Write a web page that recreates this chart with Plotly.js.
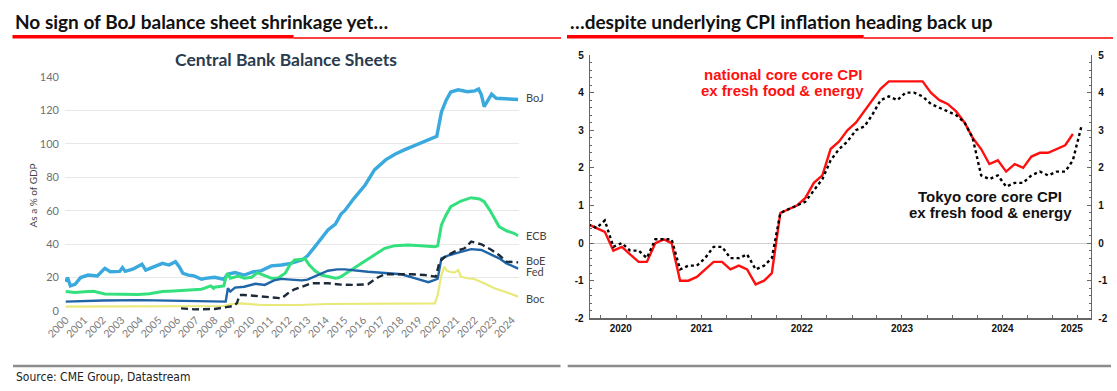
<!DOCTYPE html>
<html><head><meta charset="utf-8">
<script src="https://cdn.plot.ly/plotly-3.0.1.min.js"></script>
<style>html,body{margin:0;padding:0;background:#fff;}#chart{width:1117px;height:391px;}</style>
</head><body><div id="chart"></div>
<script>
// ---------- LEFT: Central Bank Balance Sheets (% of GDP) ----------
const leftTickYears = [2000,2001,2002,2003,2004,2005,2006,2007,2008,2009,2010,2011,2012,2013,2014,2015,2016,2017,2018,2019,2020,2021,2022,2023,2024];
const leftTickLabels = ['2000','2001','2002','2003','2004','2005','2006','2007','2008','2009','2010','2011','2012','2013','2014','2015','2016','2017','2018','2019','2020','2021','2022','2023','2024'];

const bojYears = [2000.0,2000.1,2000.25,2000.5,2000.8,2001.2,2001.7,2002.1,2002.4,2002.9,2003.05,2003.2,2003.6,2004.1,2004.3,2004.8,2005.2,2005.55,2005.9,2006.1,2006.3,2006.6,2006.9,2007.3,2007.5,2008.0,2008.5,2008.7,2009.1,2009.6,2010.1,2010.5,2011.05,2011.6,2012.1,2012.7,2013.0,2013.4,2013.75,2014.1,2014.5,2014.8,2015.0,2015.5,2016.1,2016.6,2017.2,2017.7,2018.2,2018.8,2019.3,2019.8,2019.95,2020.2,2020.45,2020.7,2021.1,2021.6,2022.0,2022.2,2022.35,2022.5,2022.7,2022.9,2023.15,2023.5,2023.8,2024.1,2024.33];
const bojVals  = [17.5,20,15,16,20,21.5,21,25.5,23.5,23.7,26,23.7,25,28,24.5,27,28.5,27.5,29.5,26.5,22.5,21.5,21,19,19.5,20.2,19,22,23,21.5,23.5,24,27,27.5,28.5,30.5,33,38.5,43.5,48.5,52,58,60,67.4,75.4,84.4,90.4,93.8,96.4,99.3,101.7,104,104.5,119,126,131,132.3,131.2,131.7,132.8,129.3,122.3,126.3,129.7,127.3,127,127,126.5,126.5];

const ecbYears = [2000.0,2000.5,2001.0,2001.5,2002.1,2002.8,2003.9,2004.5,2005.2,2005.8,2006.6,2007.3,2007.8,2007.95,2008.0,2008.5,2008.6,2008.7,2008.85,2009.3,2009.6,2010.0,2010.3,2010.7,2011.05,2011.4,2011.8,2012.05,2012.3,2012.7,2012.85,2013.1,2013.4,2013.75,2014.1,2014.5,2014.65,2014.8,2015.2,2015.9,2016.6,2017.15,2017.7,2018.4,2019.1,2019.85,2020.0,2020.2,2020.45,2020.7,2021.25,2021.8,2022.25,2022.5,2022.8,2023.05,2023.3,2023.7,2024.1,2024.33];
const ecbVals  = [11.6,11,11.5,11.8,10.2,10,9.9,10.3,11.6,12,12.6,13,15,13.5,14.2,15,19.6,22.6,19.6,20.9,19.6,20.2,22.9,20.9,19.6,19.6,22.6,27.5,30.5,30.9,31.5,27.5,24.1,21.5,20.5,19.6,19.9,20.5,23.5,28.5,33.5,37.5,39.1,39.5,39.1,38.5,39,51.5,57.5,62.4,65.8,67.8,67,65.4,60.4,55.5,50.5,48,46.5,45];

const fedYears = [2000.0,2002.0,2004.0,2006.0,2008.0,2008.6,2008.72,2008.85,2009.1,2009.6,2010.2,2010.7,2011.2,2011.6,2012.1,2012.7,2013.0,2013.6,2014.1,2014.6,2015.0,2016.25,2017.0,2018.05,2018.8,2019.5,2019.85,2020.0,2020.2,2020.65,2021.3,2021.8,2022.35,2022.9,2023.3,2023.7,2024.33];
const fedVals  = [5.6,6.3,6.5,6.2,5.8,5.6,13.6,11.6,14,14.5,16.3,15.6,18.3,19.2,18.8,18.3,18.8,21.5,24.1,24.9,24.9,23.5,23,22,19.5,17.2,18.6,19.3,31.5,33.5,35.5,37,36.5,33.5,31.5,28.5,25.3];

const boeYears = [2006.2,2006.9,2008.0,2008.7,2009.0,2009.2,2009.35,2009.6,2010.2,2010.7,2011.2,2011.6,2011.95,2012.3,2012.7,2013.2,2014.1,2014.8,2015.5,2016.25,2016.7,2017.15,2017.9,2018.6,2019.3,2019.9,2020.1,2020.4,2020.9,2021.45,2021.8,2022.35,2022.9,2023.3,2023.7,2024.33];
const boeVals  = [1.6,1.0,1.2,2.2,3,4.6,9.6,9.6,9.0,8.4,7.6,7.6,10.6,13,14.5,16.6,16.6,15.8,15.6,16,19.6,22,22,22,21.5,20.5,29.5,32.5,35.5,37.5,41.5,39.9,36.5,33.5,29.5,29.1];

const bocYears = [2000.0,2004.0,2008.5,2008.9,2009.1,2009.45,2010.5,2012.5,2014.1,2016.0,2018.0,2019.85,2020.0,2020.2,2020.35,2020.5,2020.65,2020.9,2021.1,2021.25,2021.6,2022.0,2022.5,2023.05,2023.5,2024.0,2024.33];
const bocVals  = [2.6,3,3,4.2,4.2,4.6,3.6,3.6,4.2,4.4,4.6,4.6,9.6,21.5,26.5,24,23.5,23,24.5,20.5,19.6,19,16.6,13.6,12,10,8.6];

const seriesNames = ['BoJ','ECB','BoE','Fed','Boc'];

// ---------- RIGHT: Japan core-core CPI (% y/y), monthly from May 2020 ----------
const cpiFirstMonth = '2020-05';
const nationalCoreCore = [0.5,0.4,0.3,-0.2,-0.1,-0.3,-0.5,-0.5,
  0.0,0.1,0.0,-1.0,-1.0,-0.9,-0.7,-0.5,-0.5,-0.7,-0.6,-0.7,
  -1.1,-1.0,-0.8,0.8,0.9,1.0,1.2,1.6,1.8,2.5,2.7,3.0,
  3.2,3.5,3.8,4.1,4.3,4.3,4.3,4.3,4.3,4.0,3.8,3.7,
  3.5,3.2,2.8,2.5,2.1,2.2,1.9,2.1,2.0,2.3,2.4,2.4,
  2.5,2.6,2.9];
const tokyoCoreCore = [0.5,0.4,0.6,-0.1,0.0,-0.2,-0.2,-0.4,
  0.1,0.1,0.1,-0.7,-0.6,-0.6,-0.4,-0.1,-0.1,-0.4,-0.4,-0.3,
  -0.7,-0.6,-0.4,0.8,0.9,1.0,1.1,1.4,1.7,2.2,2.5,2.7,
  3.0,3.1,3.4,3.8,3.9,3.8,4.0,4.0,3.9,3.7,3.6,3.5,
  3.4,3.2,2.8,1.8,1.7,1.8,1.5,1.6,1.6,1.8,1.9,1.8,
  1.9,1.9,2.2,3.1];
const rightYearLabels = ['2020','2021','2022','2023','2024','2025'];
const rightTickVals = [-2,-1,0,1,2,3,4,5];
const rightTickText = ['-2','-1','0','1','2','3','4','5'];

// monthly date stamps (plotted mid-month)
function monthDates(first, n){
  const [y0,m0] = first.split('-').map(Number);
  const out=[];
  for(let i=0;i<n;i++){const t=(m0-1)+i;const y=y0+Math.floor(t/12);const m=(t%12)+1;
    out.push(y+'-'+String(m).padStart(2,'0')+'-15');}
  return out;
}

const W=1117,H=391;
const px=p=>p/W, py=p=>1-p/H;

const rightRange=['2020-05-22','2025-05-20'];
// year label centres = middle of each year's visible part
function yearCentres(labels, range){
  const r0=Date.parse(range[0]), r1=Date.parse(range[1]);
  return labels.map(l=>{const a=Math.max(Date.UTC(+l,0,1),r0), b=Math.min(Date.UTC(+l+1,0,1),r1);
    return new Date((a+b)/2).toISOString().slice(0,10);});
}

const leftFont={family:'Lato, "Open Sans", sans-serif',size:11,color:'#707070'};
const boldArial={family:'"Liberation Sans", Arial, sans-serif',size:10,color:'#111',weight:'bold'};
const annFont={family:'"Liberation Sans", Arial, sans-serif',size:15,weight:'bold'};
const titleFont={family:'Lato, sans-serif',size:19,color:'#111',weight:'bold'};

const traces=[
  {x:bojYears,y:bojVals,name:seriesNames[0],mode:'lines',line:{color:'#3aa9de',width:3.4},xaxis:'x',yaxis:'y'},
  {x:ecbYears,y:ecbVals,name:seriesNames[1],mode:'lines',line:{color:'#34e07e',width:3},xaxis:'x',yaxis:'y'},
  {x:bocYears,y:bocVals,name:seriesNames[4],mode:'lines',line:{color:'#e9e97a',width:2.2},xaxis:'x',yaxis:'y'},
  {x:fedYears,y:fedVals,name:seriesNames[3],mode:'lines',line:{color:'#2065a8',width:2.4},xaxis:'x',yaxis:'y'},
  {x:boeYears,y:boeVals,name:seriesNames[2],mode:'lines',line:{color:'#1c2a3a',width:2.4,dash:'7px,4px'},xaxis:'x',yaxis:'y'},
  {x:monthDates(cpiFirstMonth,tokyoCoreCore.length),y:tokyoCoreCore,name:'Tokyo',mode:'lines',line:{color:'#000',width:2.4,dash:'dot'},xaxis:'x2',yaxis:'y3'},
  {x:monthDates(cpiFirstMonth,nationalCoreCore.length),y:nationalCoreCore,name:'National',mode:'lines',line:{color:'#ff1010',width:2.4},xaxis:'x2',yaxis:'y2'}
];

const rAxisY={range:[-2,5],tickvals:rightTickVals,ticktext:rightTickText,showline:true,linecolor:'#666',linewidth:1.3,
  ticks:'inside',ticklen:4,tickcolor:'#666',minor:{dtick:0.2,ticks:'inside',ticklen:2,tickcolor:'#666'},
  showgrid:false,tickfont:boldArial,fixedrange:true};

const layout={
  width:W,height:H,margin:{l:0,r:0,t:0,b:0},paper_bgcolor:'#fff',plot_bgcolor:'rgba(0,0,0,0)',showlegend:false,
  xaxis:{domain:[px(65),px(518.6)],range:[1999.96,2024.35],tickvals:leftTickYears,ticktext:leftTickLabels,tickangle:-45,
    tickfont:{...leftFont,size:10.5,color:'#7a7a7a'},showgrid:false,zeroline:false,showline:false,ticks:'',anchor:'y'},
  yaxis:{domain:[py(311),py(77)],range:[0,140],dtick:20,gridcolor:'#e8e8e8',gridwidth:1,zeroline:false,showline:false,ticks:'',
    tickfont:leftFont,anchor:'x',ticklabelstandoff:5},
  xaxis2:{domain:[px(590),px(1091)],type:'date',range:rightRange,anchor:'y2',showline:true,linecolor:'#666',linewidth:1.3,
    showgrid:false,zeroline:false,tickvals:yearCentres(rightYearLabels,rightRange),ticktext:rightYearLabels,ticks:'',
    minor:{dtick:'M3',tick0:'2020-01-01',ticks:'inside',ticklen:3,tickcolor:'#666',showgrid:false},tickfont:boldArial},
  yaxis2:{...rAxisY,domain:[py(318.3),py(55)],anchor:'x2',zeroline:true,zerolinecolor:'#cfcfcf',zerolinewidth:1,ticklabelstandoff:3},
  yaxis3:{...rAxisY,overlaying:'y2',side:'right',anchor:'x2',zeroline:false,ticklabelstandoff:4},
  shapes:[
    {type:'rect',xref:'paper',yref:'paper',x0:px(12.5),x1:px(293.6),y0:py(38.6),y1:py(35),fillcolor:'#ff0000',line:{width:0}},
    {type:'rect',xref:'paper',yref:'paper',x0:px(293.6),x1:px(561),y0:py(38.8),y1:py(37.3),fillcolor:'#ff0000',line:{width:0}},
    {type:'rect',xref:'paper',yref:'paper',x0:px(567),x1:px(863.7),y0:py(38.6),y1:py(35),fillcolor:'#ff0000',line:{width:0}},
    {type:'rect',xref:'paper',yref:'paper',x0:px(863.7),x1:px(1113),y0:py(38.8),y1:py(37.3),fillcolor:'#ff0000',line:{width:0}},
    {type:'rect',xref:'paper',yref:'paper',x0:px(13),x1:px(560.5),y0:py(367.2),y1:py(364.8),fillcolor:'#8c8c8c',line:{width:0}},
    {type:'rect',xref:'paper',yref:'paper',x0:px(567.7),x1:px(1111),y0:py(367.2),y1:py(364.8),fillcolor:'#8c8c8c',line:{width:0}}
  ],
  annotations:[
    {xref:'paper',yref:'paper',x:px(13),y:py(21.5),xanchor:'left',yanchor:'middle',showarrow:false,
      text:'No sign of BoJ balance sheet shrinkage yet…',font:titleFont},
    {xref:'paper',yref:'paper',x:px(568),y:py(21.5),xanchor:'left',yanchor:'middle',showarrow:false,
      text:'…despite underlying CPI inflation heading back up',font:titleFont},
    {xref:'paper',yref:'paper',x:px(286),y:py(59),xanchor:'center',yanchor:'middle',showarrow:false,
      text:'Central Bank Balance Sheets',font:{family:'Lato, sans-serif',size:17.5,color:'#2a3c4e',weight:'bold'}},
    {xref:'paper',yref:'paper',x:px(32),y:py(195.5),xanchor:'center',yanchor:'middle',showarrow:false,textangle:-90,
      text:'As a % of GDP',font:{family:'Lato, sans-serif',size:10,color:'#444'}},
    {xref:'paper',yref:'paper',x:px(524),y:py(97.7),xanchor:'left',yanchor:'middle',showarrow:false,text:seriesNames[0],font:{...leftFont,color:'#444'}},
    {xref:'paper',yref:'paper',x:px(524),y:py(235.7),xanchor:'left',yanchor:'middle',showarrow:false,text:seriesNames[1],font:{...leftFont,color:'#444'}},
    {xref:'paper',yref:'paper',x:px(524),y:py(260.7),xanchor:'left',yanchor:'middle',showarrow:false,text:seriesNames[2],font:{...leftFont,color:'#444'}},
    {xref:'paper',yref:'paper',x:px(524),y:py(271),xanchor:'left',yanchor:'middle',showarrow:false,text:seriesNames[3],font:{...leftFont,color:'#444'}},
    {xref:'paper',yref:'paper',x:px(524),y:py(298),xanchor:'left',yanchor:'middle',showarrow:false,text:seriesNames[4],font:{...leftFont,color:'#444'}},
    {xref:'paper',yref:'paper',x:px(783),y:py(74.3),xanchor:'center',yanchor:'middle',showarrow:false,
      text:'national core core CPI',font:{...annFont,color:'#ff1010'}},
    {xref:'paper',yref:'paper',x:px(782),y:py(90.3),xanchor:'center',yanchor:'middle',showarrow:false,
      text:'ex fresh food &amp; energy',font:{...annFont,color:'#ff1010'}},
    {xref:'paper',yref:'paper',x:px(990),y:py(196.5),xanchor:'center',yanchor:'middle',showarrow:false,
      text:'Tokyo core core CPI',font:{...annFont,color:'#111'}},
    {xref:'paper',yref:'paper',x:px(990),y:py(212),xanchor:'center',yanchor:'middle',showarrow:false,
      text:'ex fresh food &amp; energy',font:{...annFont,color:'#111'}},
    {xref:'paper',yref:'paper',x:px(14),y:py(377),xanchor:'left',yanchor:'middle',showarrow:false,
      text:'Source: CME Group, Datastream',font:{family:'"DejaVu Sans Condensed", "Liberation Sans Narrow", "Roboto Condensed", sans-serif',size:12,color:'#222'}}
  ]
};

Plotly.newPlot('chart',traces,layout,{displayModeBar:false,staticPlot:true});
</script></body></html>
